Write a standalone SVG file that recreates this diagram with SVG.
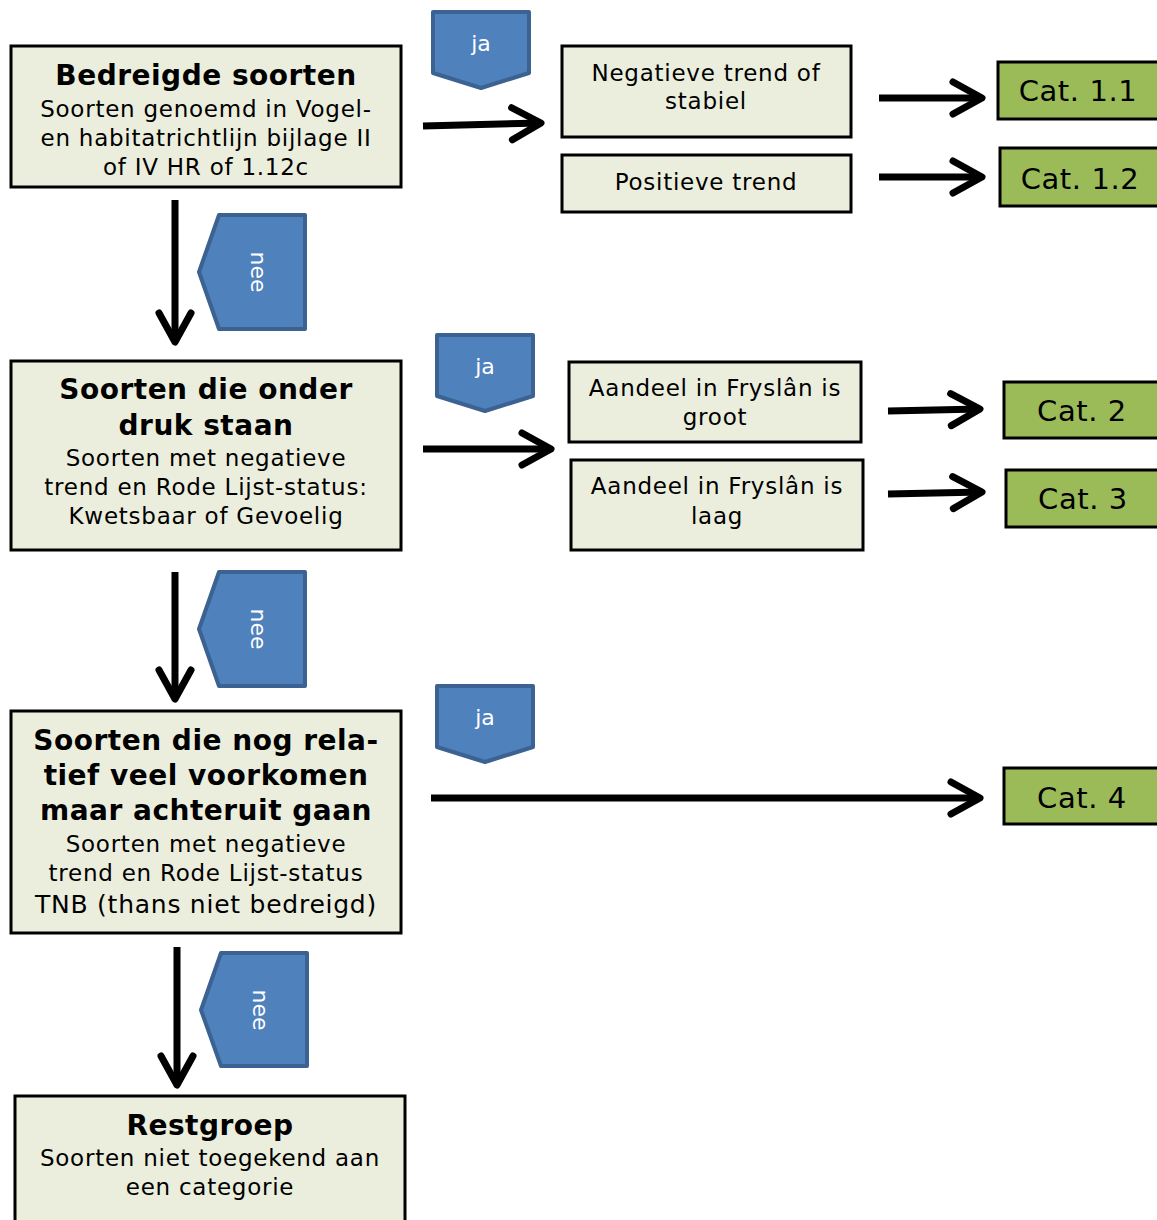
<svg xmlns="http://www.w3.org/2000/svg" width="1157" height="1220" viewBox="0 0 1157 1220">
<style>
.box{fill:#ebeedd;stroke:#000;stroke-width:3}
.cat{fill:#9bbb59;stroke:#000;stroke-width:3}
.tag{fill:#4f81bd;stroke:#3b6290;stroke-width:4;stroke-linejoin:round}
.t{font-family:"DejaVu Sans",Verdana,sans-serif;fill:#000;text-anchor:middle}
.h{font-size:28px;font-weight:bold;letter-spacing:0.5px}
.b{font-size:23px;letter-spacing:0.75px}
.c{font-size:29px;letter-spacing:0.6px}
.w{font-family:"DejaVu Sans",Verdana,sans-serif;fill:#fff;font-size:22px;text-anchor:middle}
.ar{fill:none;stroke:#000;stroke-width:7;marker-end:url(#ah)}
</style>
<defs>
<marker id="ah" markerUnits="userSpaceOnUse" viewBox="-40 -25 50 50" refX="0" refY="0" markerWidth="50" markerHeight="50" orient="auto" overflow="visible">
<path d="M-29,-16 L0,0 L-29,16" fill="none" stroke="#000" stroke-width="7" stroke-linecap="round" stroke-linejoin="round"/>
</marker>
</defs>
<rect width="1157" height="1220" fill="#fff"/>

<g id="connectors">
<path class="ar" d="M423,126 L541,123"/>
<path class="ar" d="M879,98 L982,98"/>
<path class="ar" d="M879,177 L982,177"/>
<path class="ar" d="M175,200 L175,342"/>
<path class="ar" d="M423,449 L551,449"/>
<path class="ar" d="M888,411 L980,409"/>
<path class="ar" d="M888,494 L982,492"/>
<path class="ar" d="M175,572 L175,699"/>
<path class="ar" d="M431,798 L980,798"/>
<path class="ar" d="M177,947 L177,1085"/>
</g>

<g id="bedreigde">
<rect class="box" x="11" y="46" width="390" height="141"/>
<text class="t h" x="206" y="85">Bedreigde soorten</text>
<text class="t b" x="206" y="117">Soorten genoemd in Vogel-</text>
<text class="t b" x="206" y="146">en habitatrichtlijn bijlage II</text>
<text class="t b" x="206" y="175">of IV HR of 1.12c</text>
</g>

<g id="ja1">
<path class="tag" d="M433,12 L529,12 L529,73 L481,88 L433,73 Z"/>
<text class="w" x="481" y="51">ja</text>
</g>

<g id="negatief">
<rect class="box" x="562" y="46" width="289" height="91"/>
<text class="t b" x="706" y="81">Negatieve trend of</text>
<text class="t b" x="706" y="109">stabiel</text>
</g>

<g id="positief">
<rect class="box" x="562" y="155" width="289" height="57"/>
<text class="t b" x="706" y="190">Positieve trend</text>
</g>

<g id="cat11">
<rect class="cat" x="998" y="62" width="165" height="57"/>
<text class="t c" x="1078" y="101">Cat. 1.1</text>
</g>

<g id="cat12">
<rect class="cat" x="1000" y="148" width="165" height="58"/>
<text class="t c" x="1080" y="189">Cat. 1.2</text>
</g>

<g id="nee1">
<path class="tag" d="M219,215 L305,215 L305,329 L219,329 L199,272 Z"/>
<text class="w" transform="translate(258,272) rotate(90)" y="7">nee</text>
</g>

<g id="onderdruk">
<rect class="box" x="11" y="361" width="390" height="189"/>
<text class="t h" x="206" y="399">Soorten die onder</text>
<text class="t h" x="206" y="435">druk staan</text>
<text class="t b" x="206" y="466">Soorten met negatieve</text>
<text class="t b" x="206" y="495">trend en Rode Lijst-status:</text>
<text class="t b" x="206" y="524">Kwetsbaar of Gevoelig</text>
</g>

<g id="ja2">
<path class="tag" d="M437,335 L533,335 L533,396 L485,411 L437,396 Z"/>
<text class="w" x="485" y="374">ja</text>
</g>

<g id="groot">
<rect class="box" x="569" y="362" width="292" height="80"/>
<text class="t b" x="715" y="396">Aandeel in Fryslân is</text>
<text class="t b" x="715" y="425">groot</text>
</g>

<g id="laag">
<rect class="box" x="571" y="460" width="292" height="90"/>
<text class="t b" x="717" y="494">Aandeel in Fryslân is</text>
<text class="t b" x="717" y="524">laag</text>
</g>

<g id="cat2">
<rect class="cat" x="1004" y="382" width="165" height="56"/>
<text class="t c" x="1082" y="421">Cat. 2</text>
</g>

<g id="cat3">
<rect class="cat" x="1006" y="470" width="165" height="57"/>
<text class="t c" x="1083" y="509">Cat. 3</text>
</g>

<g id="nee2">
<path class="tag" d="M219,572 L305,572 L305,686 L219,686 L199,629 Z"/>
<text class="w" transform="translate(258,629) rotate(90)" y="7">nee</text>
</g>

<g id="achteruit">
<rect class="box" x="11" y="711" width="390" height="222"/>
<text class="t h" x="206" y="750">Soorten die nog rela-</text>
<text class="t h" x="206" y="785">tief veel voorkomen</text>
<text class="t h" x="206" y="820">maar achteruit gaan</text>
<text class="t b" x="206" y="852">Soorten met negatieve</text>
<text class="t b" x="206" y="881">trend en Rode Lijst-status</text>
<text class="t" x="206" y="913" font-size="25" letter-spacing="0.75">TNB (thans niet bedreigd)</text>
</g>

<g id="ja3">
<path class="tag" d="M437,686 L533,686 L533,747 L485,762 L437,747 Z"/>
<text class="w" x="485" y="725">ja</text>
</g>

<g id="cat4">
<rect class="cat" x="1004" y="768" width="165" height="56"/>
<text class="t c" x="1082" y="808">Cat. 4</text>
</g>

<g id="nee3">
<path class="tag" d="M221,953 L307,953 L307,1066 L221,1066 L201,1010 Z"/>
<text class="w" transform="translate(260,1010) rotate(90)" y="7">nee</text>
</g>

<g id="restgroep">
<rect class="box" x="15" y="1096" width="390" height="140"/>
<text class="t h" x="210" y="1135">Restgroep</text>
<text class="t b" x="210" y="1166">Soorten niet toegekend aan</text>
<text class="t b" x="210" y="1195">een categorie</text>
</g>
</svg>
